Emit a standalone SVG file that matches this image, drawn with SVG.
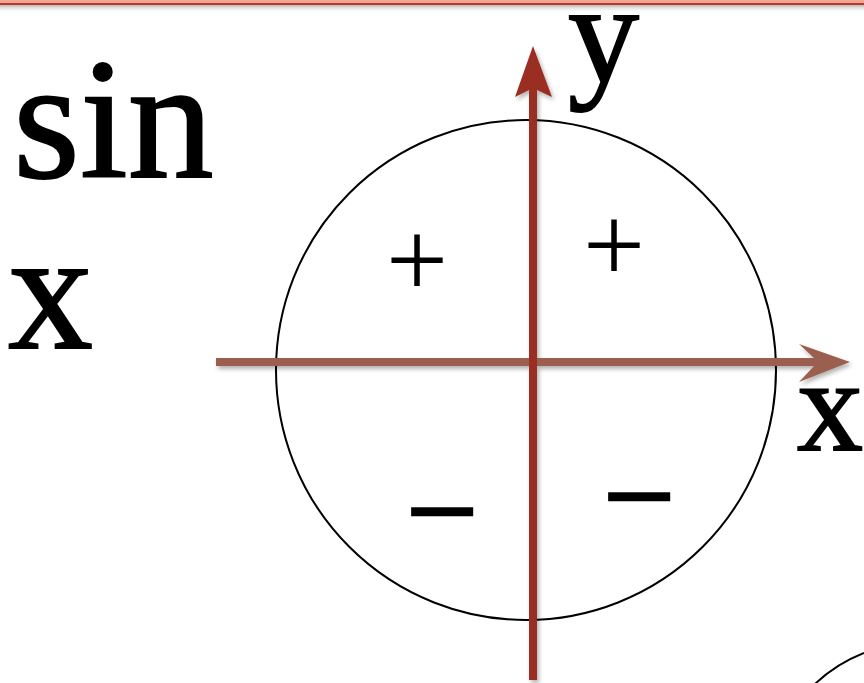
<svg xmlns="http://www.w3.org/2000/svg" width="864" height="683" viewBox="0 0 864 683">
<defs>
<linearGradient id="sh" x1="0" y1="0" x2="0" y2="1">
<stop offset="0" stop-color="#888" stop-opacity="0.6"/>
<stop offset="1" stop-color="#fff" stop-opacity="0"/>
</linearGradient>
<filter id="ds" x="-20%" y="-20%" width="140%" height="140%">
<feDropShadow dx="2" dy="3" stdDeviation="2" flood-color="#000" flood-opacity="0.3"/>
</filter>
<style>
.t{font-family:"Liberation Serif","Times New Roman",serif;fill:#000;stroke:#000;stroke-width:1.8}
.s{font-family:"Liberation Serif","Times New Roman",serif;fill:#000;text-anchor:middle}
.c{fill:none;stroke:#000;stroke-width:2}
</style>
</defs>
<rect width="864" height="683" fill="#fff"/>
<g id="topbar">
<rect x="0" y="0" width="864" height="3" fill="#f2a594"/>
<rect x="0" y="3" width="864" height="2" fill="#b83a26"/>
<rect x="0" y="5" width="864" height="8" fill="url(#sh)"/>
</g>
<g id="circle"><circle class="c" cx="526" cy="370" r="250"/></g>
<g id="arc2"><path class="c" d="M815 684 Q836 664 864 653"/></g>
<g id="labels">
<text class="t" x="13" y="177" font-size="172">sin</text>
<text class="t" x="8" y="348" font-size="170">x</text>
<text class="t" x="568" y="82" font-size="142">y</text>
<text class="t" x="797" y="450" font-size="132">x</text>
</g>
<g id="signs">
<text class="s" x="417" y="297" font-size="110">+</text>
<text class="s" x="614" y="282" font-size="110">+</text>
<text class="s" x="442" y="554" font-size="128" stroke="#000" stroke-width="2.5">−</text>
<text class="s" x="639" y="539" font-size="128" stroke="#000" stroke-width="2.5">−</text>
</g>
<g id="connectors" filter="url(#ds)">
<path d="M216 358 L814 358 L799 344 L850 362 L799 382 L814 366 L216 366 Z" fill="#9b5f4f"/>
<path d="M529 680 L529 90 L515 97 L533 46 L552 97 L537 90 L537 680 Z" fill="#9b2e22"/>
</g>
</svg>
